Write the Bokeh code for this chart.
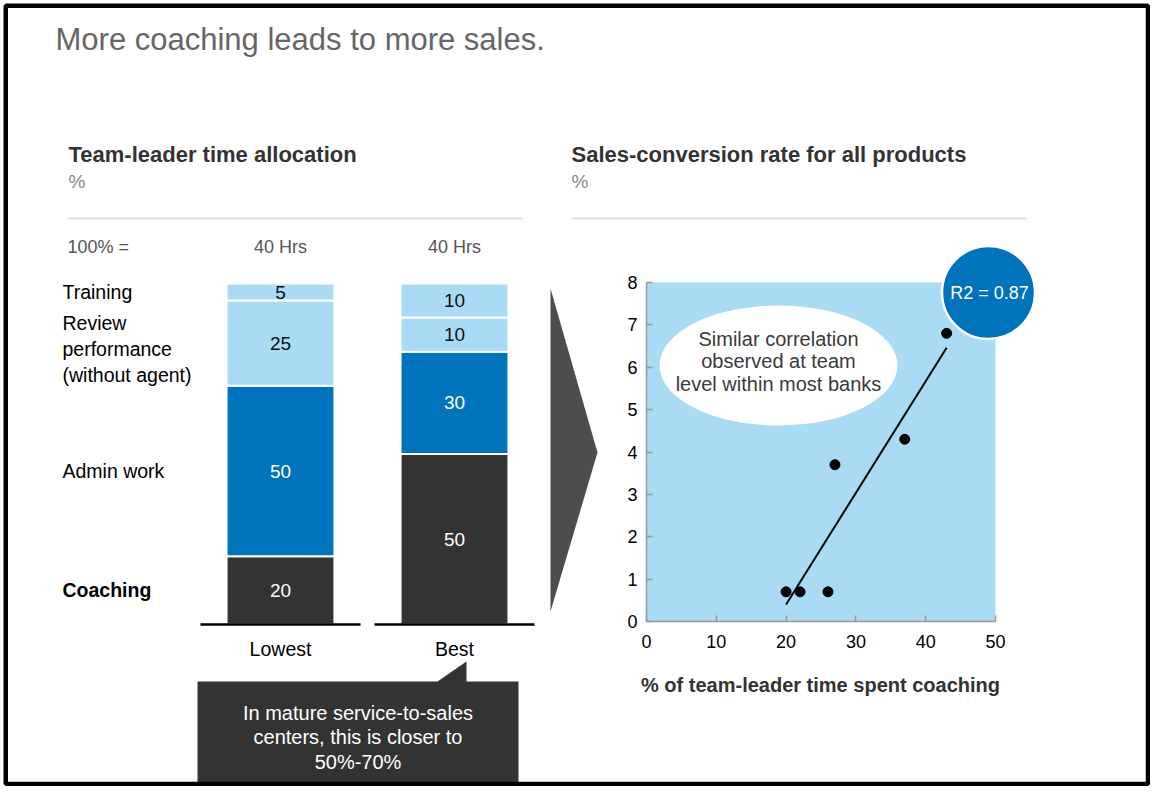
import numpy as np
from bokeh.plotting import figure
from bokeh.models import Range1d, LinearAxis, FixedTicker
from bokeh.core.properties import value
from bokeh.embed import file_html
from bokeh.resources import INLINE

# ---------------- data ----------------
categories = ["Lowest", "Best"]
hours_total = ["40 Hrs", "40 Hrs"]
segment_names = ["Coaching", "Admin work", "Review\nperformance\n(without agent)", "Training"]
coaching = [20, 50]
admin_work = [50, 30]
review_performance = [25, 10]
training = [5, 10]

coaching_share = [20, 22, 26, 27, 37, 43]       # % of team-leader time spent coaching
conversion_rate = [0.7, 0.7, 0.7, 3.7, 4.3, 6.8]  # sales-conversion rate, %
x_ticks = [0, 10, 20, 30, 40, 50]
y_ticks = [0, 1, 2, 3, 4, 5, 6, 7, 8]
r2_label = "R2 = 0.87"

# ---------------- styles ----------------
FONT = value("Liberation Sans")
DARK = "#333333"
BLUE = "#0073BD"
LIGHT = "#A9DBF4"

W, H = 1150, 786
PX0, PY0 = 0, 0
PX1, PY1 = PX0 + W, PY0 + H


def lin_range(v_a, p_a, v_b, p_b, p_start, p_end):
    k = (v_b - v_a) / (p_b - p_a)
    return Range1d(start=v_a + (p_start - p_a) * k, end=v_a + (p_end - p_a) * k)


p = figure(width=W, height=H, x_range=Range1d(PX0, PX1), y_range=Range1d(PY1, PY0),
           x_axis_type=None, y_axis_type=None, title=None,
           output_backend="svg", toolbar_location=None, min_border=0)
p.outline_line_color = None
p.background_fill_color = "white"
p.border_fill_color = "white"

p.extra_x_ranges = {"sx": lin_range(0, 646, 50, 995, PX0, PX1),
                    "bx": lin_range(0, 280, 1, 454, PX0, PX1)}
p.extra_y_ranges = {"sy": lin_range(0, 621, 8, 282, PY1, PY0),
                    "by": lin_range(0, 624, 100, 283, PY1, PY0)}


def txt(x, y, t, size="20px", color="black", align="left", baseline="middle",
        style="normal", **kw):
    p.text(x=x, y=y, text=t, text_font=FONT, text_font_size=size, text_color=color,
           text_align=align, text_baseline=baseline, text_font_style=style, **kw)


# ---------------- headings ----------------
txt([55], [39], ["More coaching leads to more sales."], size="31px", color="#666666")
txt([68], [154], ["Team-leader time allocation"], size="22px", color=DARK, style="bold")
txt([68], [181], ["%"], size="19px", color="#888888")
txt([571], [154], ["Sales-conversion rate for all products"], size="22px", color=DARK, style="bold")
txt([571], [181], ["%"], size="19px", color="#888888")
p.segment(x0=[68, 571], x1=[522, 1026], y0=[218, 218], y1=[218, 218],
          line_color="#DDDDDD", line_width=2)

# ---------------- stacked bars ----------------
idx = np.arange(len(categories))
stack = np.array([coaching, admin_work, review_performance, training], dtype=float)
tops = np.cumsum(stack, axis=0)
bottoms = tops - stack
seg_colors = [DARK, BLUE, LIGHT, LIGHT]
seg_label_colors = ["white", "white", "#111111", "#111111"]
label_nudge = [0, 0, 6, 0]

for i in range(len(stack)):
    p.vbar(x=idx, bottom=bottoms[i], top=tops[i], width=0.62, fill_color=seg_colors[i],
           line_color="white", line_width=2, x_range_name="bx", y_range_name="by")
    txt(idx, (bottoms[i] + tops[i]) / 2, [f"{v:g}" for v in stack[i]], size="19px",
        color=seg_label_colors[i], align="center",
        x_range_name="bx", y_range_name="by")
    txt([62], [(bottoms[i][0] + tops[i][0]) / 2], [segment_names[i]], size="19.5px",
        color="black", style="bold" if i == 0 else "normal",
        y_range_name="by", y_offset=label_nudge[i], text_line_height=1.18)

p.segment(x0=idx - 0.46, x1=idx + 0.46, y0=[0] * len(idx), y1=[0] * len(idx),
          line_color="black", line_width=2.5, x_range_name="bx", y_range_name="by")

txt([67], [246], ["100% ="], size="18px", color="#555555")
txt(idx, [246] * len(idx), hours_total, size="18px", color="#555555", align="center",
    x_range_name="bx")
txt(idx, [648] * len(idx), categories, size="19.5px", color="black", align="center",
    x_range_name="bx")

# arrow
p.patch(x=[550, 597, 550], y=[288, 452, 611], fill_color="#4D4D4D", line_color=None)

# callout
p.patch(x=[197, 437, 466, 466, 518, 518, 197], y=[681, 681, 661, 681, 681, 790, 790],
        fill_color=DARK, line_color=None)
txt([357.5], [737], ["In mature service-to-sales\ncenters, this is closer to\n50%-70%"],
    size="20px", color="white", align="center", text_line_height=1.1)

# ---------------- scatter ----------------
p.quad(left=[min(x_ticks)], right=[max(x_ticks)], bottom=[min(y_ticks)], top=[max(y_ticks)],
       fill_color=LIGHT, line_color=None, x_range_name="sx", y_range_name="sy")

p.ellipse(x=[778], y=[365], width=[238], height=[120], fill_color="white", line_color=None)
txt([778], [361], ["Similar correlation\nobserved at team\nlevel within most banks"],
    size="20px", color="#3A3A3A", align="center", text_line_height=1.04)

slope, intercept = np.polyfit(coaching_share, conversion_rate, 1)
fit_x = np.array([min(coaching_share), max(coaching_share)], dtype=float)
p.line(fit_x, slope * fit_x + intercept, line_color="black", line_width=2,
       x_range_name="sx", y_range_name="sy")
p.scatter(coaching_share, conversion_rate, size=10, fill_color="black", line_color="black",
          x_range_name="sx", y_range_name="sy")

for ax, side, standoff in [
    (LinearAxis(x_range_name="sx", y_range_name="sy", fixed_location=min(y_ticks),
                bounds=(min(x_ticks), max(x_ticks)), ticker=FixedTicker(ticks=x_ticks)),
     "below", 13),
    (LinearAxis(x_range_name="sx", y_range_name="sy", fixed_location=min(x_ticks),
                bounds=(min(y_ticks), max(y_ticks)), ticker=FixedTicker(ticks=y_ticks)),
     "left", 9),
]:
    ax.axis_line_color = "#999999"
    ax.axis_line_width = 1.5
    ax.major_tick_line_color = "#999999"
    ax.major_tick_line_width = 1.5
    ax.major_tick_in = 6
    ax.major_tick_out = 0
    ax.minor_tick_line_color = None
    ax.major_label_text_font = "Liberation Sans"
    ax.major_label_text_font_size = "18px"
    ax.major_label_text_color = "black"
    ax.major_label_standoff = standoff
    p.add_layout(ax, side)

txt([820], [684], ["% of team-leader time spent coaching"], size="20px", color=DARK,
    align="center", style="bold")

# R2 badge
p.ellipse(x=[988], y=[292], width=[93], height=[93], fill_color=BLUE, line_color="white",
          line_width=2.5)
txt([989], [292], [r2_label], size="18px", color="white", align="center")

# frame border (kept inside the canvas)
p.quad(left=[5.25], right=[W - 2.5], top=[5.25], bottom=[H - 2.5], fill_color=None,
       line_color="black", line_width=4.5)

open("out.html", "w").write(file_html(p, INLINE))
